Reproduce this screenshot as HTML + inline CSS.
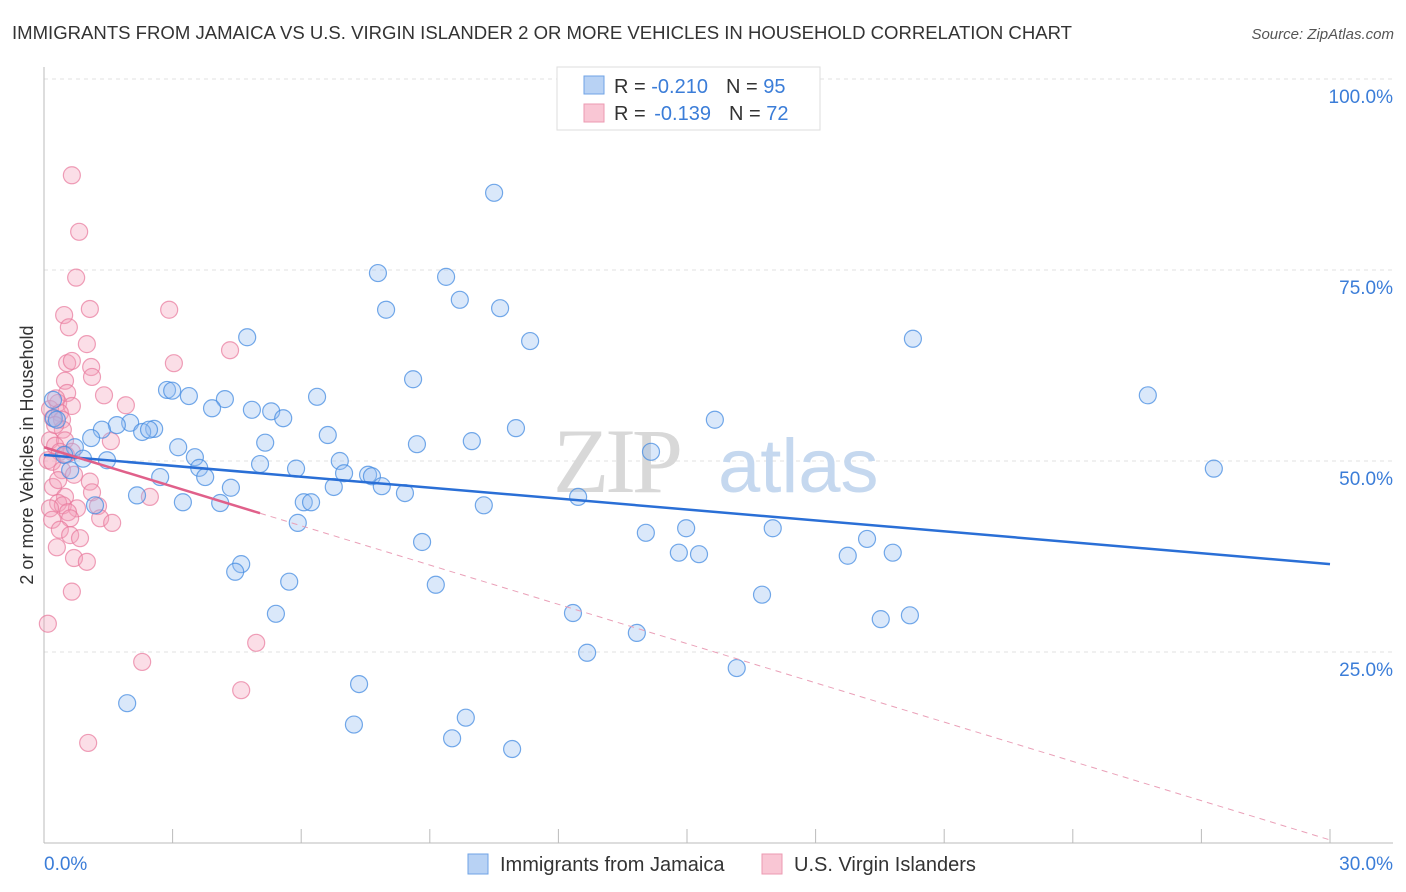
<!DOCTYPE html>
<html><head><meta charset="utf-8"><style>
body{margin:0;background:#fff;font-family:"Liberation Sans",sans-serif;}
svg{display:block}
</style></head><body>
<svg id="chart" width="1406" height="892" xmlns="http://www.w3.org/2000/svg">
<text x="12" y="39" font-size="18" fill="#333" textLength="1060" lengthAdjust="spacingAndGlyphs">IMMIGRANTS FROM JAMAICA VS U.S. VIRGIN ISLANDER 2 OR MORE VEHICLES IN HOUSEHOLD CORRELATION CHART</text>
<text x="1394" y="39" font-size="15" fill="#555" font-style="italic" text-anchor="end">Source: ZipAtlas.com</text>
<g id="grid"></g>
<g id="watermark">
<text x="553" y="492" font-family="Liberation Serif,serif" font-size="92" fill="#d8d8d8" letter-spacing="-4">ZIP</text>
<text x="718" y="492" font-size="76" fill="#c5d8ef">atlas</text>
</g>
<g id="axes"></g>
<g id="pts"></g>
<g id="lines"></g>
<g>
<rect x="557" y="67" width="263" height="63" fill="#fff" stroke="#ddd"/>
<rect x="584" y="76" width="20" height="18" fill="#b8d2f4" stroke="#6fa3e6"/>
<rect x="584" y="104" width="20" height="18" fill="#f9c6d4" stroke="#ec9ab2"/>
<text x="614" y="93" font-size="20" fill="#333">R = <tspan fill="#3b7dd8">-0.210</tspan><tspan dx="18">N = </tspan><tspan fill="#3b7dd8">95</tspan></text>
<text x="614" y="120" font-size="20" fill="#333">R = <tspan fill="#3b7dd8" dx="3">-0.139</tspan><tspan dx="18">N = </tspan><tspan fill="#3b7dd8">72</tspan></text>
</g>
<g>
<rect x="468" y="854" width="20" height="20" fill="#b8d2f4" stroke="#6fa3e6"/>
<text x="500" y="871" font-size="20" fill="#333">Immigrants from Jamaica</text>
<rect x="762" y="854" width="20" height="20" fill="#f9c6d4" stroke="#ec9ab2"/>
<text x="794" y="871" font-size="20" fill="#333">U.S. Virgin Islanders</text>
</g>
<text x="33" y="455" font-size="18" fill="#333" transform="rotate(-90 33 455)" text-anchor="middle">2 or more Vehicles in Household</text>
</svg>
<script>
const blueX=[10.50,7.79,9.38,9.70,7.98,10.64,11.34,4.74,20.27,8.61,25.75,2.87,2.99,3.38,6.37,4.22,0.21,3.92,4.85,5.30,5.58,2.01,15.65,0.23,1.70,1.35,2.57,2.29,2.45,6.62,11.01,9.98,8.70,5.16,1.10,3.13,0.72,14.16,3.52,1.47,0.91,6.90,5.04,5.88,3.62,27.29,7.00,7.56,3.76,2.71,7.65,7.88,6.76,4.36,8.42,2.17,12.46,6.06,6.23,3.24,4.11,10.26,1.19,5.92,14.04,14.98,17.00,8.82,19.20,14.81,15.28,18.75,19.80,4.60,4.46,5.72,9.14,16.75,12.34,5.41,20.20,19.52,13.83,12.67,16.16,7.35,1.94,9.84,7.23,9.52,10.92,0.47,0.61,0.30];
const blueY=[85.1,74.6,74.1,71.1,69.8,70.0,65.7,66.2,66.0,60.7,58.6,59.3,59.2,58.5,58.4,58.1,58.0,56.9,56.7,56.5,55.6,55.0,55.4,55.6,54.7,54.1,54.2,53.8,54.1,53.4,54.3,52.6,52.2,52.4,53.0,51.8,51.8,51.2,50.5,50.1,50.3,50.0,49.6,49.0,49.1,49.0,48.4,48.2,47.9,47.9,48.0,46.7,46.6,46.5,45.8,45.5,45.3,44.6,44.6,44.6,44.5,44.2,44.2,41.9,40.6,41.2,41.2,39.4,39.8,38.0,37.8,37.6,38.0,36.5,35.5,34.2,33.8,32.5,30.1,30.0,29.8,29.3,27.5,24.9,22.9,20.8,18.3,16.4,15.5,13.7,12.3,50.8,48.8,55.4];
const pinkX=[0.65,0.82,0.75,2.92,1.07,0.47,0.58,1.00,4.34,3.03,0.54,1.10,0.65,0.49,1.12,1.40,0.54,0.33,1.91,0.65,0.14,0.37,0.21,0.42,0.44,1.56,0.14,0.49,0.26,0.37,0.65,0.09,0.19,0.42,0.70,1.07,0.21,1.12,0.49,2.47,0.33,0.44,0.14,1.26,0.77,0.56,0.61,0.19,1.31,1.59,0.37,0.61,0.84,0.30,0.70,1.00,0.65,0.09,4.95,2.29,4.60,1.03,0.28,0.26,0.51,0.33];
const pinkY=[87.4,80.0,74.0,69.8,69.9,69.1,67.5,65.3,64.5,62.8,62.8,62.3,63.1,60.5,61.0,58.6,58.9,57.6,57.3,57.2,56.8,56.3,55.6,55.4,54.1,52.6,52.7,52.7,52.0,51.2,51.2,50.1,49.9,48.8,48.2,47.3,46.6,45.9,45.3,45.3,44.5,44.2,43.8,44.1,43.8,43.3,42.5,42.3,42.5,41.9,41.0,40.3,39.9,38.7,37.3,36.8,32.9,28.7,26.2,23.7,20.0,13.1,58.2,54.7,50.8,47.5];
const yTicks=[25,50,75,100];
const yTickLabels=["25.0%","50.0%","75.0%","100.0%"];
const xTicks=[0,3,6,9,12,15,18,21,24,27,30];
const blueTrend=[50.8,36.5];
const pinkTrend=[51.8,0.4];
const pinkSolidEnd=5.04;

const NS="http://www.w3.org/2000/svg";
const X0=44,X1=1330,Y0=843,Y100=79;
const sx=v=>X0+(v/30)*(X1-X0);
const sy=v=>Y0-(v/100)*(Y0-Y100);
function mk(tag,attrs,parent){const e=document.createElementNS(NS,tag);for(const k in attrs)e.setAttribute(k,attrs[k]);parent.appendChild(e);return e;}
const grid=document.getElementById('grid'),axes=document.getElementById('axes'),pts=document.getElementById('pts'),lines=document.getElementById('lines');
yTicks.forEach((t,i)=>{
  const l=mk('line',{x1:X0,x2:1393,y1:sy(t),y2:sy(t),stroke:'#e2e2e2','stroke-dasharray':'4,4'},grid);
  
  
  const tx=mk('text',{x:1393,y:sy(t)+24,'font-size':19,fill:'#3b7dd8','text-anchor':'end'},axes);
  tx.textContent=yTickLabels[i];
  
  
});
mk('line',{x1:X0,x2:X0,y1:67,y2:Y0,stroke:'#bbb'},axes);
mk('line',{x1:X0,x2:1393,y1:Y0,y2:Y0,stroke:'#bbb'},axes);
xTicks.forEach(t=>{
  const l=mk('line',{x1:sx(t),x2:sx(t),y1:Y0-14,y2:Y0,stroke:'#bbb'},axes);
  
  
});
const xl=mk('text',{x:44,y:870,'font-size':19,fill:'#3b7dd8'},axes);xl.textContent='0.0%';


const xr=mk('text',{x:1393,y:870,'font-size':19,fill:'#3b7dd8','text-anchor':'end'},axes);xr.textContent='30.0%';


pinkX.forEach((x,i)=>{
  const c=mk('circle',{cx:sx(x),cy:sy(pinkY[i]),r:8.5,fill:'rgba(244,160,186,0.35)',stroke:'rgba(232,120,155,0.7)','stroke-width':1.2},pts);
  
  
});
blueX.forEach((x,i)=>{
  const c=mk('circle',{cx:sx(x),cy:sy(blueY[i]),r:8.5,fill:'rgba(150,190,240,0.35)',stroke:'rgba(70,140,225,0.75)','stroke-width':1.2},pts);
  
  
});
const bl=mk('line',{x1:sx(0),y1:sy(blueTrend[0]),x2:sx(30),y2:sy(blueTrend[1]),stroke:'#2a6fd6','stroke-width':2.5},lines);


const pAt=x=>pinkTrend[0]+(pinkTrend[1]-pinkTrend[0])*x/30;
const pd=mk('line',{x1:sx(pinkSolidEnd),y1:sy(pAt(pinkSolidEnd)),x2:sx(30),y2:sy(pinkTrend[1]),stroke:'#eaa0b8','stroke-width':1,'stroke-dasharray':'6,5'},lines);


const ps=mk('line',{x1:sx(0),y1:sy(pinkTrend[0]),x2:sx(pinkSolidEnd),y2:sy(pAt(pinkSolidEnd)),stroke:'#e0608a','stroke-width':2.5},lines);


</script>
</body></html>
